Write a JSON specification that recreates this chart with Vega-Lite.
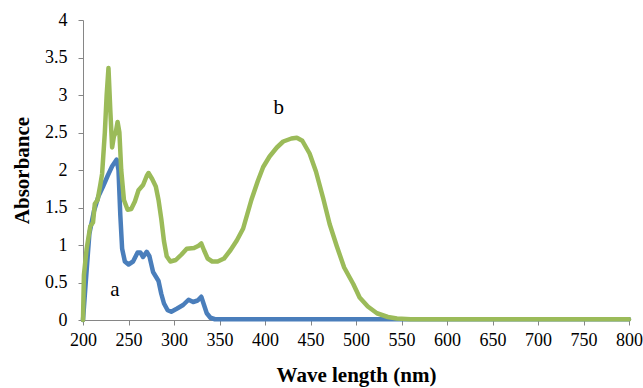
{
  "$schema": "https://vega.github.io/schema/vega-lite/v6.json",
  "width": 546,
  "height": 300,
  "autosize": "none",
  "padding": {"left": 83, "top": 20, "right": 14, "bottom": 68},
  "background": "white",
  "config": {
    "view": {"stroke": null},
    "font": "Liberation Serif"
  },
  "datasets": {
    "spectra": [
      {"wl": 200, "abs": 0, "s": "a"}, {"wl": 203, "abs": 0.5, "s": "a"}, {"wl": 207, "abs": 1.15, "s": "a"}, {"wl": 212, "abs": 1.45, "s": "a"}, {"wl": 217, "abs": 1.65, "s": "a"}, {"wl": 222, "abs": 1.78, "s": "a"}, {"wl": 227, "abs": 1.92, "s": "a"}, {"wl": 232, "abs": 2.05, "s": "a"}, {"wl": 237, "abs": 2.14, "s": "a"}, {"wl": 239, "abs": 2.0, "s": "a"}, {"wl": 241, "abs": 1.4, "s": "a"}, {"wl": 243, "abs": 0.95, "s": "a"}, {"wl": 246, "abs": 0.78, "s": "a"}, {"wl": 250, "abs": 0.74, "s": "a"}, {"wl": 255, "abs": 0.78, "s": "a"}, {"wl": 260, "abs": 0.9, "s": "a"}, {"wl": 263, "abs": 0.9, "s": "a"}, {"wl": 266, "abs": 0.84, "s": "a"}, {"wl": 270, "abs": 0.91, "s": "a"}, {"wl": 273, "abs": 0.85, "s": "a"}, {"wl": 277, "abs": 0.64, "s": "a"}, {"wl": 280, "abs": 0.58, "s": "a"}, {"wl": 283, "abs": 0.52, "s": "a"}, {"wl": 286, "abs": 0.35, "s": "a"}, {"wl": 289, "abs": 0.22, "s": "a"}, {"wl": 293, "abs": 0.13, "s": "a"}, {"wl": 297, "abs": 0.11, "s": "a"}, {"wl": 303, "abs": 0.15, "s": "a"}, {"wl": 310, "abs": 0.2, "s": "a"}, {"wl": 316, "abs": 0.27, "s": "a"}, {"wl": 321, "abs": 0.24, "s": "a"}, {"wl": 326, "abs": 0.26, "s": "a"}, {"wl": 330, "abs": 0.31, "s": "a"}, {"wl": 333, "abs": 0.2, "s": "a"}, {"wl": 336, "abs": 0.09, "s": "a"}, {"wl": 340, "abs": 0.03, "s": "a"}, {"wl": 345, "abs": 0.01, "s": "a"}, {"wl": 400, "abs": 0.01, "s": "a"}, {"wl": 500, "abs": 0.01, "s": "a"}, {"wl": 600, "abs": 0.01, "s": "a"}, {"wl": 700, "abs": 0.01, "s": "a"}, {"wl": 800, "abs": 0.01, "s": "a"},
      {"wl": 200, "abs": 0, "s": "b"}, {"wl": 201, "abs": 0.6, "s": "b"}, {"wl": 204, "abs": 0.95, "s": "b"}, {"wl": 208, "abs": 1.25, "s": "b"}, {"wl": 211, "abs": 1.3, "s": "b"}, {"wl": 213, "abs": 1.55, "s": "b"}, {"wl": 216, "abs": 1.6, "s": "b"}, {"wl": 219, "abs": 1.8, "s": "b"}, {"wl": 221, "abs": 1.95, "s": "b"}, {"wl": 224, "abs": 2.5, "s": "b"}, {"wl": 226, "abs": 3.0, "s": "b"}, {"wl": 228, "abs": 3.36, "s": "b"}, {"wl": 230, "abs": 2.8, "s": "b"}, {"wl": 232, "abs": 2.3, "s": "b"}, {"wl": 234, "abs": 2.45, "s": "b"}, {"wl": 236, "abs": 2.5, "s": "b"}, {"wl": 238, "abs": 2.64, "s": "b"}, {"wl": 240, "abs": 2.5, "s": "b"}, {"wl": 242, "abs": 2.0, "s": "b"}, {"wl": 245, "abs": 1.6, "s": "b"}, {"wl": 249, "abs": 1.47, "s": "b"}, {"wl": 253, "abs": 1.48, "s": "b"}, {"wl": 257, "abs": 1.58, "s": "b"}, {"wl": 261, "abs": 1.73, "s": "b"}, {"wl": 266, "abs": 1.8, "s": "b"}, {"wl": 270, "abs": 1.92, "s": "b"}, {"wl": 272, "abs": 1.96, "s": "b"}, {"wl": 276, "abs": 1.88, "s": "b"}, {"wl": 280, "abs": 1.78, "s": "b"}, {"wl": 283, "abs": 1.6, "s": "b"}, {"wl": 286, "abs": 1.35, "s": "b"}, {"wl": 289, "abs": 1.05, "s": "b"}, {"wl": 292, "abs": 0.85, "s": "b"}, {"wl": 296, "abs": 0.78, "s": "b"}, {"wl": 302, "abs": 0.8, "s": "b"}, {"wl": 308, "abs": 0.87, "s": "b"}, {"wl": 314, "abs": 0.95, "s": "b"}, {"wl": 322, "abs": 0.96, "s": "b"}, {"wl": 327, "abs": 0.99, "s": "b"}, {"wl": 330, "abs": 1.02, "s": "b"}, {"wl": 333, "abs": 0.93, "s": "b"}, {"wl": 337, "abs": 0.82, "s": "b"}, {"wl": 342, "abs": 0.78, "s": "b"}, {"wl": 348, "abs": 0.78, "s": "b"}, {"wl": 355, "abs": 0.82, "s": "b"}, {"wl": 362, "abs": 0.93, "s": "b"}, {"wl": 369, "abs": 1.06, "s": "b"}, {"wl": 376, "abs": 1.22, "s": "b"}, {"wl": 385, "abs": 1.6, "s": "b"}, {"wl": 392, "abs": 1.85, "s": "b"}, {"wl": 398, "abs": 2.04, "s": "b"}, {"wl": 405, "abs": 2.18, "s": "b"}, {"wl": 413, "abs": 2.3, "s": "b"}, {"wl": 420, "abs": 2.38, "s": "b"}, {"wl": 429, "abs": 2.42, "s": "b"}, {"wl": 435, "abs": 2.43, "s": "b"}, {"wl": 441, "abs": 2.39, "s": "b"}, {"wl": 449, "abs": 2.22, "s": "b"}, {"wl": 456, "abs": 1.98, "s": "b"}, {"wl": 464, "abs": 1.62, "s": "b"}, {"wl": 471, "abs": 1.28, "s": "b"}, {"wl": 479, "abs": 0.98, "s": "b"}, {"wl": 487, "abs": 0.7, "s": "b"}, {"wl": 497, "abs": 0.48, "s": "b"}, {"wl": 504, "abs": 0.3, "s": "b"}, {"wl": 513, "abs": 0.18, "s": "b"}, {"wl": 523, "abs": 0.09, "s": "b"}, {"wl": 535, "abs": 0.04, "s": "b"}, {"wl": 545, "abs": 0.02, "s": "b"}, {"wl": 560, "abs": 0.01, "s": "b"}, {"wl": 600, "abs": 0.01, "s": "b"}, {"wl": 700, "abs": 0.01, "s": "b"}, {"wl": 800, "abs": 0.01, "s": "b"}
    ],
    "labels": [
      {"wl": 235, "abs": 0.4, "t": "a"},
      {"wl": 415, "abs": 2.83, "t": "b"}
    ]
  },
  "encoding": {
    "x": {
      "field": "wl", "type": "quantitative",
      "scale": {"domain": [200, 800], "nice": false, "zero": false},
      "axis": {
        "title": "Wave length (nm)", "values": [200,250,300,350,400,450,500,550,600,650,700,750,800],
        "format": "d", "titlePadding": 15, "labelOverlap": false, "labelFlush": false, "labelBound": false,
        "grid": false, "domainColor": "#868686", "tickColor": "#868686", "tickSize": 5,
        "labelFont": "Liberation Serif", "labelFontSize": 18, "labelColor": "#000", "labelPadding": 6,
        "titleFont": "Liberation Serif", "titleFontSize": 21, "titleFontWeight": "bold", "titleColor": "#000"
      }
    },
    "y": {
      "field": "abs", "type": "quantitative",
      "scale": {"domain": [0, 4], "nice": false},
      "axis": {
        "title": "Absorbance", "values": [0,0.5,1,1.5,2,2.5,3,3.5,4], "format": "~g",
        "titlePadding": 12, "labelOverlap": false, "labelFlush": false, "labelBound": false,
        "grid": false, "domainColor": "#868686", "tickColor": "#868686", "tickSize": 5,
        "labelFont": "Liberation Serif", "labelFontSize": 18, "labelColor": "#000", "labelPadding": 11,
        "titleFont": "Liberation Serif", "titleFontSize": 21, "titleFontWeight": "bold", "titleColor": "#000"
      }
    }
  },
  "layer": [
    {
      "data": {"name": "spectra"},
      "mark": {"type": "line", "strokeWidth": 4.5, "strokeJoin": "round", "strokeCap": "round"},
      "encoding": {
        "color": {
          "field": "s", "type": "nominal",
          "scale": {"domain": ["a", "b"], "range": ["#4a7ebb", "#9bbb59"]},
          "legend": null
        }
      }
    },
    {
      "data": {"name": "labels"},
      "mark": {"type": "text", "font": "Liberation Serif", "fontSize": 21, "color": "#000"},
      "encoding": {
        "text": {"field": "t"}
      }
    }
  ]
}
